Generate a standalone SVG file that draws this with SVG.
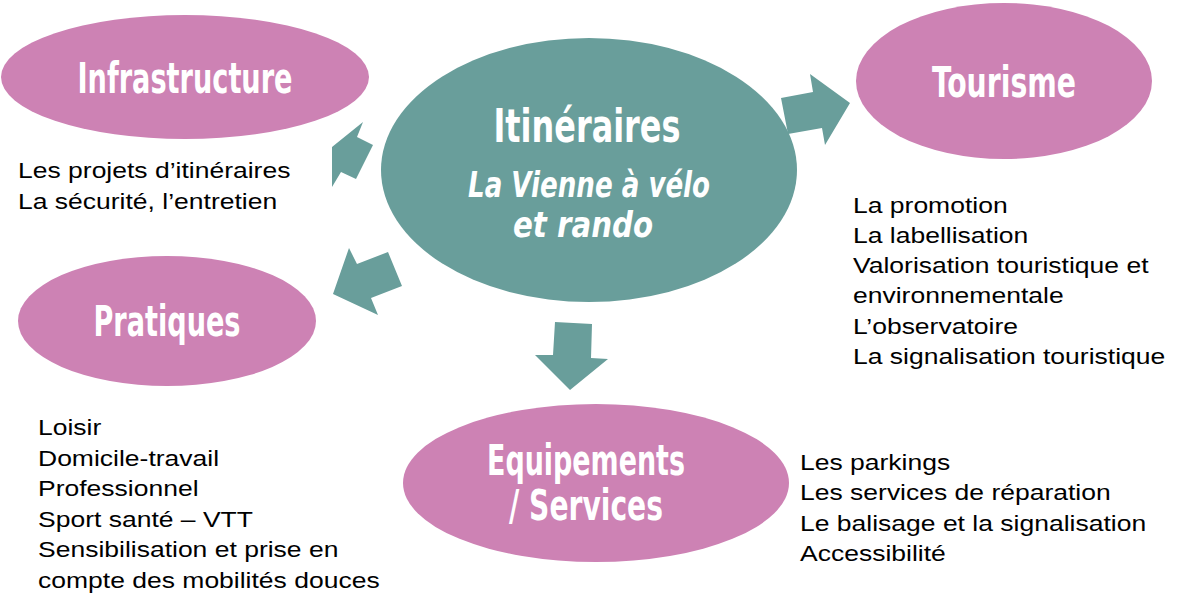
<svg xmlns="http://www.w3.org/2000/svg" width="1180" height="593" viewBox="0 0 1180 593">
<style>
.pink{fill:#CD82B4}
.teal{fill:#699E9B}
.title{font-family:"Liberation Sans Narrow","DejaVu Sans Condensed","Liberation Sans",sans-serif;font-weight:bold;fill:#FFFFFF}
.it{font-style:italic}
.body{font-family:"Liberation Sans",Arial,sans-serif;font-size:22px;fill:#000000}
</style>
<rect width="1180" height="593" fill="#FFFFFF"/>
<g id="connectors">
<polygon class="teal" points="363,122 357,137 373,145 356,179 341,172 332,187 332,147"/>
<polygon class="teal" points="349,248 357,264 388,252 402,286 371,298 378,315 333,294"/>
<polygon class="teal" points="810,74 813,92 781,98 788,134 822,128 825,145 850,103"/>
<polygon class="teal" points="555,322 592,324 591,358 608,359 570,390 535,355 553,355"/>
</g>
<g id="center">
<ellipse class="teal" cx="589" cy="170" rx="208" ry="132"/>
<text class="title" x="587" y="142" font-size="46" text-anchor="middle" textLength="187" lengthAdjust="spacingAndGlyphs">Itinéraires</text>
<text class="title it" x="589" y="197" font-size="35" text-anchor="middle" textLength="242" lengthAdjust="spacingAndGlyphs">La Vienne à vélo</text>
<text class="title it" x="583" y="237" font-size="35" text-anchor="middle" textLength="140" lengthAdjust="spacingAndGlyphs">et rando</text>
</g>
<g id="infrastructure">
<ellipse class="pink" cx="185" cy="77" rx="184" ry="62"/>
<text class="title" x="185" y="93" font-size="42" text-anchor="middle" textLength="215" lengthAdjust="spacingAndGlyphs">Infrastructure</text>
<g transform="translate(18 0) scale(1.205 1)">
<text class="body" x="0" y="178">Les projets d’itinéraires</text>
<text class="body" x="0" y="209">La sécurité, l’entretien</text>
</g>
</g>
<g id="tourisme">
<ellipse class="pink" cx="1004" cy="81" rx="148" ry="78"/>
<text class="title" x="1004" y="97" font-size="42" text-anchor="middle" textLength="144" lengthAdjust="spacingAndGlyphs">Tourisme</text>
<g transform="translate(853 0) scale(1.205 1)">
<text class="body" x="0" y="213">La promotion</text>
<text class="body" x="0" y="243">La labellisation</text>
<text class="body" x="0" y="273">Valorisation touristique et</text>
<text class="body" x="0" y="303">environnementale</text>
<text class="body" x="0" y="334">L’observatoire</text>
<text class="body" x="0" y="364">La signalisation touristique</text>
</g>
</g>
<g id="pratiques">
<ellipse class="pink" cx="167" cy="321" rx="149" ry="65"/>
<text class="title" x="167" y="336" font-size="42" text-anchor="middle" textLength="147" lengthAdjust="spacingAndGlyphs">Pratiques</text>
<g transform="translate(38 0) scale(1.205 1)">
<text class="body" x="0" y="435">Loisir</text>
<text class="body" x="0" y="466">Domicile-travail</text>
<text class="body" x="0" y="496">Professionnel</text>
<text class="body" x="0" y="527">Sport santé – VTT</text>
<text class="body" x="0" y="557">Sensibilisation et prise en</text>
<text class="body" x="0" y="588">compte des mobilités douces</text>
</g>
</g>
<g id="equipements">
<ellipse class="pink" cx="596" cy="483" rx="193" ry="79"/>
<text class="title" x="586" y="475" font-size="42" text-anchor="middle" textLength="198" lengthAdjust="spacingAndGlyphs">Equipements</text>
<text class="title" x="586" y="520" font-size="42" text-anchor="middle" textLength="154" lengthAdjust="spacingAndGlyphs">/ Services</text>
<g transform="translate(800 0) scale(1.205 1)">
<text class="body" x="0" y="470">Les parkings</text>
<text class="body" x="0" y="500">Les services de réparation</text>
<text class="body" x="0" y="531">Le balisage et la signalisation</text>
<text class="body" x="0" y="561">Accessibilité</text>
</g>
</g>
</svg>
